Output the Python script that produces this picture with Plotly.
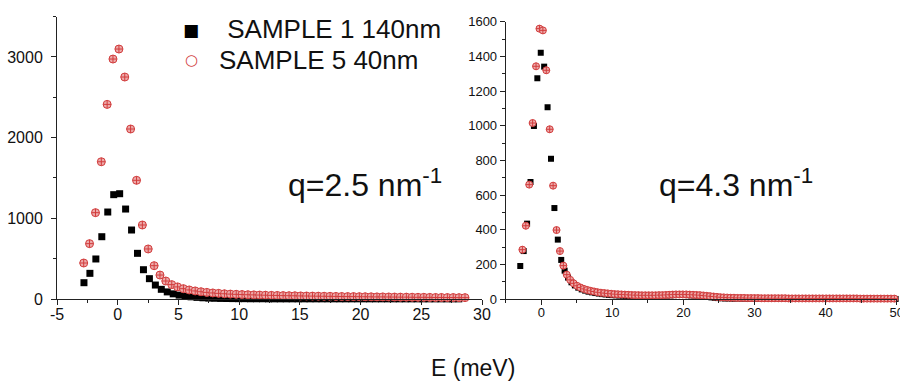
import plotly.graph_objects as go

# ---------------- data: left panel (q = 2.5 nm^-1) ----------------
left_s1_E = [-2.78, -2.29, -1.80, -1.31, -0.82, -0.33, 0.16, 0.65, 1.14, 1.63,
             2.12, 2.61, 3.10, 3.59, 4.08, 4.57, 5.06, 5.55, 6.04, 6.53,
             7.02, 7.51, 8.00, 8.49, 8.98, 9.47, 9.96, 10.45, 10.94, 11.43,
             11.92, 12.41, 12.90, 13.39, 13.88, 14.37, 14.86, 15.35, 15.84, 16.33,
             16.82, 17.31, 17.80, 18.29, 18.78, 19.27, 19.76, 20.25, 20.74, 21.23,
             21.72, 22.21, 22.70, 23.19, 23.68, 24.17, 24.66, 25.15, 25.64, 26.13,
             26.62, 27.11, 27.60, 28.09]
left_s1_I = [202, 318, 496, 772, 1078, 1293, 1305, 1115, 855, 566,
             363, 252, 173, 120, 88, 64, 48, 36, 27, 20,
             15, 11, 9, 7, 6, 5, 4, 4, 3, 3,
             3, 2, 2, 2, 2, 2, 2, 2, 2, 2,
             2, 2, 2, 2, 2, 2, 2, 2, 2, 2,
             2, 2, 2, 2, 2, 2, 2, 2, 2, 2,
             2, 2, 2, 2]

left_s5_E = [-2.80, -2.32, -1.83, -1.35, -0.87, -0.39, 0.10, 0.58, 1.06, 1.55,
             2.03, 2.51, 3.00, 3.48, 3.96, 4.45, 4.93, 5.41, 5.89, 6.38,
             6.86, 7.34, 7.83, 8.31, 8.79, 9.28, 9.76, 10.24, 10.72, 11.21,
             11.69, 12.17, 12.66, 13.14, 13.62, 14.11, 14.59, 15.07, 15.55, 16.04,
             16.52, 17.00, 17.49, 17.97, 18.45, 18.94, 19.42, 19.90, 20.38, 20.87,
             21.35, 21.83, 22.32, 22.80, 23.28, 23.77, 24.25, 24.73, 25.21, 25.70,
             26.18, 26.66, 27.15, 27.63, 28.11, 28.60]
left_s5_I = [446, 686, 1070, 1701, 2412, 2974, 3098, 2751, 2107, 1471,
             917, 620, 413, 297, 223, 178, 150, 128, 112, 100,
             90, 82, 75, 70, 65, 61, 58, 55, 53, 51,
             49, 47, 45, 44, 42, 41, 40, 38, 37, 36,
             35, 34, 33, 32, 31, 30, 30, 29, 28, 27,
             26, 26, 25, 24, 23, 23, 22, 21, 21, 20,
             19, 19, 18, 18, 17, 17]

# ---------------- data: right panel (q = 4.3 nm^-1) ----------------
right_s1_E = [-2.95, -2.47, -1.99, -1.51, -1.03, -0.55, -0.07, 0.41, 0.89, 1.37,
              1.85, 2.33, 2.81, 3.29, 3.77, 4.25, 4.73, 5.21, 5.69, 6.17,
              6.65, 7.13, 7.61, 8.09, 8.57, 9.05, 9.53, 10.01, 10.49, 10.97,
              11.45, 11.93, 12.41, 12.89, 13.37, 13.85, 14.33, 14.81, 15.29, 15.77,
              16.25, 16.73, 17.21, 17.69, 18.17, 18.65, 19.13, 19.61, 20.09, 20.57,
              21.05, 21.53, 22.01, 22.49, 22.97, 23.45, 23.93, 24.41, 24.89, 25.37,
              25.85, 26.33, 26.81, 27.29, 27.77, 28.25, 28.73, 29.21, 29.69, 30.17,
              30.65, 31.13, 31.61, 32.09, 32.57, 33.05, 33.53, 34.01, 34.49, 34.97,
              35.45, 35.93, 36.41, 36.89, 37.37, 37.85, 38.33, 38.81, 39.29, 39.77,
              40.25, 40.73, 41.21, 41.69, 42.17, 42.65, 43.13, 43.61, 44.09, 44.57,
              45.05, 45.53, 46.01, 46.49, 46.97, 47.45, 47.93, 48.41, 48.89, 49.37,
              49.85]
right_s1_I = [192, 278, 436, 676, 999, 1274, 1421, 1341, 1107, 810,
              526, 344, 227, 165,
              125, 98, 80, 67, 57, 50, 44, 40, 36, 33,
              30, 28, 26, 24, 23, 22, 21, 20, 19, 19,
              18, 18, 18, 18, 18, 19, 19, 20, 21, 22,
              23, 24, 25, 25, 25, 24, 23, 22, 21, 19,
              17, 14, 11, 9, 7, 6, 5, 5, 4, 4,
              4, 3, 3, 3, 3, 3, 3, 3, 3, 3,
              3, 3, 3, 3, 2, 2, 2, 2, 2, 2,
              2, 2, 2, 2, 2, 2, 2, 2, 2, 2,
              2, 2, 2, 2, 2, 2, 2, 2, 2, 2,
              2, 2, 2, 2, 2, 2, 2]

right_s5_E = [-2.65, -2.17, -1.69, -1.21, -0.73, -0.25, 0.23, 0.71, 1.19, 1.67,
              2.15, 2.63, 3.11, 3.59, 4.07, 4.55, 5.03, 5.51, 5.99, 6.47,
              6.95, 7.43, 7.91, 8.39, 8.87, 9.35, 9.83, 10.31, 10.79, 11.27,
              11.75, 12.23, 12.71, 13.19, 13.67, 14.15, 14.63, 15.11, 15.59, 16.07,
              16.55, 17.03, 17.51, 17.99, 18.47, 18.95, 19.43, 19.91, 20.39, 20.87,
              21.35, 21.83, 22.31, 22.79, 23.27, 23.75, 24.23, 24.71, 25.19, 25.67,
              26.15, 26.63, 27.11, 27.59, 28.07, 28.55, 29.03, 29.51, 29.99, 30.47,
              30.95, 31.43, 31.91, 32.39, 32.87, 33.35, 33.83, 34.31, 34.79, 35.27,
              35.75, 36.23, 36.71, 37.19, 37.67, 38.15, 38.63, 39.11, 39.59, 40.07,
              40.55, 41.03, 41.51, 41.99, 42.47, 42.95, 43.43, 43.91, 44.39, 44.87,
              45.35, 45.83, 46.31, 46.79, 47.27, 47.75, 48.23, 48.71, 49.19, 49.67]
right_s5_I = [286, 424, 661, 1016, 1343, 1560, 1550, 1320, 980, 655,
              399, 278, 194,
              142, 112, 92, 78, 68, 60, 54, 49, 45, 41,
              38, 36, 34, 32, 30, 29, 28, 27, 26, 25,
              24, 24, 23, 23, 23, 23, 23, 24, 24, 25,
              26, 27, 28, 28, 28, 28, 27, 26, 25, 24,
              22, 20, 18, 16, 14, 12, 11, 10, 9, 9,
              8, 8, 8, 7, 7, 7, 7, 6, 6, 6,
              6, 6, 6, 6, 6, 5, 5, 5, 5, 5,
              5, 5, 5, 5, 5, 5, 5, 5, 5, 5,
              5, 5, 5, 5, 5, 5, 4, 4, 4, 4,
              4, 4, 4, 4, 4, 4, 4]

# tick labels
left_xticks = [-5, 0, 5, 10, 15, 20, 25, 30]
left_xticklabels = ["-5", "0", "5", "10", "15", "20", "25", "30"]

series_names = ["\u00a0SAMPLE 1 140nm", "SAMPLE 5 40nm"]
legend_keys = ["\u25a0", "\u25cb"]
panel_labels = ["q=2.5 nm<sup>-1</sup>", "q=4.3 nm<sup>-1</sup>"]
x_title = "E (meV)"

assert len(left_s1_E) == len(left_s1_I)
assert len(left_s5_E) == len(left_s5_I)
assert len(right_s1_E) == len(right_s1_I)
assert len(right_s5_E) == len(right_s5_I)

# ---------------- styles ----------------
BLACK = "#000000"
RED = "#d23c3c"
PINK = "rgba(236,170,170,1)"
FONT = "Liberation Sans, Arial, sans-serif"
AX = "#222222"
TXT = "#111111"
W, H = 900, 381

fig = go.Figure()

def sq(x, y, xa, ya, size, name):
    return go.Scatter(x=x, y=y, xaxis=xa, yaxis=ya, mode="markers", showlegend=False,
                      cliponaxis=False, name=name,
                      marker=dict(symbol="square", size=size, color=BLACK, line=dict(width=0)))

def circ(x, y, xa, ya, size, name):
    return go.Scatter(x=x, y=y, xaxis=xa, yaxis=ya, mode="markers", showlegend=False,
                      cliponaxis=False, name=name,
                      marker=dict(symbol="circle-cross", size=size, color=PINK,
                                  line=dict(width=1, color=RED)))

fig.add_trace(sq(left_s1_E, left_s1_I, "x", "y", 7, series_names[0]))
fig.add_trace(circ(left_s5_E, left_s5_I, "x", "y", 8, series_names[1]))
fig.add_trace(sq(right_s1_E, right_s1_I, "x2", "y2", 6, series_names[0]))
fig.add_trace(circ(right_s5_E, right_s5_I, "x2", "y2", 7, series_names[1]))

def px_x(p):
    return p / W

def px_y(p):
    return (H - p) / H

axis_common = dict(showgrid=False, zeroline=False, showline=True, linecolor=AX, linewidth=1,
                   ticks="outside", ticklen=5, tickwidth=1, tickcolor=AX, mirror=False,
                   automargin=False, ticklabeloverflow="allow")

def note(text, x, y, size, xanchor="left", color=TXT, family=FONT):
    return dict(text=text, xref="paper", yref="paper", x=px_x(x), y=px_y(y),
                xanchor=xanchor, yanchor="middle", showarrow=False,
                font=dict(size=size, family=family, color=color))

fig.update_layout(
    width=W, height=H,
    margin=dict(l=0, r=0, t=0, b=0, autoexpand=False),
    paper_bgcolor="white", plot_bgcolor="white",
    font=dict(family=FONT, color=TXT),
    showlegend=False,
    xaxis=dict(domain=[px_x(57), px_x(482)], range=[-5, 30], anchor="y",
               tickmode="array", tickvals=left_xticks, ticktext=left_xticklabels,
               tickfont=dict(size=16), ticklabelstandoff=-4,
               minor=dict(ticks="outside", ticklen=3, dtick=2.5, tickcolor=AX),
               **axis_common),
    yaxis=dict(domain=[px_y(299), px_y(16.6)], range=[0, 3500], dtick=1000, anchor="x",
               tickfont=dict(size=16), ticklabelstandoff=5,
               minor=dict(ticks="outside", ticklen=3, dtick=500, tickcolor=AX),
               **axis_common),
    xaxis2=dict(domain=[px_x(505.7), px_x(896.7)], range=[-5, 50], dtick=10, anchor="y2",
                tickfont=dict(size=13), ticklabelstandoff=-4,
                minor=dict(ticks="outside", ticklen=3, dtick=5, tickcolor=AX),
                **axis_common),
    yaxis2=dict(domain=[px_y(299.3), px_y(21.7)], range=[0, 1600], dtick=200, anchor="x2",
                tickfont=dict(size=13),
                minor=dict(ticks="outside", ticklen=3, dtick=100, tickcolor=AX),
                **axis_common),
    annotations=[
        # legend keys and labels
        note(legend_keys[0], 191, 30, 17, xanchor="center", color=BLACK, family="DejaVu Sans"),
        note(legend_keys[1], 191, 60, 15, xanchor="center", color=RED, family="DejaVu Sans"),
        note(series_names[0], 218, 29, 26),
        note(series_names[1], 217, 60, 26),
        # panel labels
        note(panel_labels[0], 286, 183, 32),
        note(panel_labels[1], 657, 183, 32),
        # shared x title
        note(x_title, 473, 368, 23, xanchor="center"),
    ],
)

fig.write_html("out.html", config={"displayModeBar": False},
               post_script="document.body.style.margin='0';")
